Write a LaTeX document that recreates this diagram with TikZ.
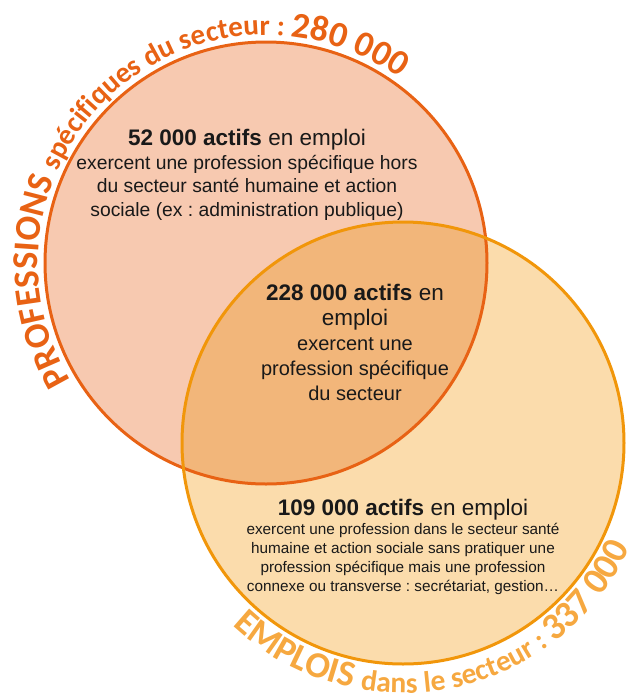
\documentclass[tikz,border=0pt]{standalone}
\usepackage{fontspec}
\setmainfont{Liberation Sans}
\newfontfamily\arcfont{Carlito}
\usetikzlibrary{positioning,decorations.text}
\definecolor{profline}{RGB}{232,98,20}
\definecolor{proffill}{RGB}{247,201,176}
\definecolor{emploiline}{RGB}{241,150,10}
\definecolor{emploifill}{RGB}{251,220,172}
\definecolor{bothfill}{RGB}{242,182,122}
\definecolor{emploitext}{RGB}{246,168,64}
\newcommand{\bigline}{\fontsize{22.5}{26}\selectfont}
\frenchspacing

\begin{document}
\begin{tikzpicture}[
    x=1pt, y=1pt,
    venn node/.style={circle,minimum size=442pt,inner sep=0pt,outer sep=0pt},
    info node/.style={align=center,text=black!90,font=\fontsize{19.3}{23.5}\selectfont},
    small node/.style={align=center,text=black!90,font=\fontsize{15.3}{19}\selectfont}
]
\useasboundingbox (0,0) rectangle (629,-694);

% Circles
\node[venn node,fill=proffill] (prof) at (266,-263) {};
\node[venn node,fill=emploifill] (emploi) at (403,-443) {};
\begin{scope}
  \clip (prof.center) circle[radius=221];
  \fill[bothfill] (emploi.center) circle[radius=221];
\end{scope}
\draw[profline,line width=3pt] (prof.center) circle[radius=221];
\draw[emploiline,line width=3pt] (emploi.center) circle[radius=221];

% Texts in the circles
\node[info node] (upper) at (247,-175) {{\bigline\textbf{52 000 actifs} en emploi}\\exercent une profession spécifique hors\\du secteur santé humaine et action\\sociale (ex : administration publique)};
\node[info node,font=\fontsize{20}{25}\selectfont] (both) at (355,-342) {\bigline\textbf{228 000 actifs} en\\\bigline emploi\\exercent une\\profession spécifique\\du secteur};
\node[small node] (lower) at (403,-547) {{\bigline\textbf{109 000 actifs} en emploi}\\exercent une profession dans le secteur santé\\humaine et action sociale sans pratiquer une\\profession spécifique mais une profession\\connexe ou transverse : secrétariat, gestion…};

% Titles along the circles
\path[decorate,decoration={text along path,text color=profline,
    text={|\arcfont\bfseries\fontsize{36.5}{36.5}\selectfont|PROFESSIONS |\arcfont\bfseries\fontsize{29}{29}\selectfont|spécifiques du secteur : |\arcfont\bfseries\fontsize{36}{36}\selectfont|280 000}}]
  ([shift={(211:228)}]prof.center) arc[start angle=211,end angle=30,radius=228];
\path[decorate,decoration={text along path,text color=emploitext,
    text={|\arcfont\bfseries\fontsize{36.5}{36.5}\selectfont|EMPLOIS |\arcfont\bfseries\fontsize{29.5}{29.5}\selectfont|dans le secteur : |\arcfont\bfseries\fontsize{37.5}{37.5}\selectfont|337 000}}]
  ([shift={(227:250)}]emploi.center) arc[start angle=227,end angle=370,radius=250];

\end{tikzpicture}
\end{document}
